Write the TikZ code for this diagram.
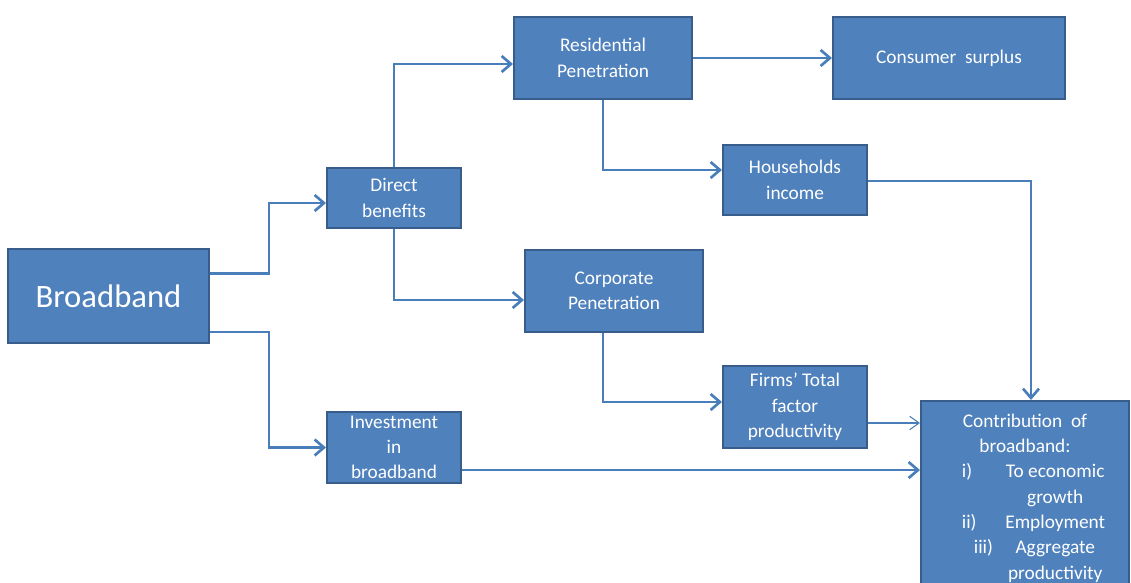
\documentclass[tikz,border=0pt]{standalone}
\usepackage{fontspec}
\setmainfont{Carlito}
\usepackage{tikz}
\usetikzlibrary{calc}
\usetikzlibrary{positioning}
\usetikzlibrary{arrows.meta}
\definecolor{boxfill}{RGB}{79,129,189}
\definecolor{boxline}{RGB}{56,93,138}
\definecolor{linkcol}{RGB}{74,126,187}

\begin{document}
\begin{tikzpicture}[x=0.75pt,y=0.75pt,yscale=-1,xscale=1,
    box/.style={draw=boxline, fill=boxfill, line width=1.5pt, text=white, align=center, inner sep=2pt, font=\fontsize{14.5}{19}\selectfont},
    link/.style={draw=linkcol, line width=2pt, -{Straight Barb[length=7pt,width=12pt,line width=2pt]}},
    thinlink/.style={draw=linkcol, line width=0.8pt, -{Straight Barb[length=7pt,width=10pt,line width=0.8pt]}}]
            %set diagram to the size of the reference
            \path[use as bounding box, clip] (0,0) rectangle (1131,582);

            %Shape: Rectangle [Broadband]
            \node[box, minimum width=150.75pt, minimum height=70.5pt, font=\fontsize{24.5}{28}\selectfont] (bb) at (108.5,296) {Broadband};
            %Shape: Rectangle [Direct benefits]
            \node[box, minimum width=100.5pt, minimum height=45pt] (direct) at (394,198) {Direct\\benefits};
            %Shape: Rectangle [Investment]
            \node[box, minimum width=100.5pt, minimum height=53.25pt] (invest) at (394,447.5) {Investment\\in\\broadband};
            %Shape: Rectangle [Residential]
            \node[box, minimum width=133.5pt, minimum height=61.5pt] (resid) at (603,58) {Residential\\Penetration};
            %Shape: Rectangle [Consumer surplus]
            \node[box, minimum width=174pt, minimum height=61.5pt] (consumer) at (949,58) {Consumer\ \ surplus};
            %Shape: Rectangle [Households]
            \node[box, minimum width=108pt, minimum height=52.5pt] (house) at (795,180) {Households\\income};
            %Shape: Rectangle [Corporate]
            \node[box, minimum width=133.5pt, minimum height=61.5pt] (corp) at (614,291) {Corporate\\Penetration};
            %Shape: Rectangle [Firms]
            \node[box, minimum width=108pt, minimum height=61.5pt] (firms) at (795,407) {Firms’ Total\\factor\\productivity};
            %Shape: Rectangle [Contribution]
            \node[box, minimum width=156pt, minimum height=145.5pt] (contrib) at (1025,498) {%
              \begin{tabular}{@{\hspace{12.75pt}}l@{\hspace{9.25pt}}c@{}}
                \multicolumn{2}{@{}c@{}}{Contribution\ \ of}\\
                \multicolumn{2}{@{}c@{}}{broadband:}\\
                i) & To economic\\
                   & growth\\
                ii) & Employment\\
                \hspace{9pt}iii) & Aggregate\\
                   & productivity
              \end{tabular}};

            %Straight Lines [Broadband to Direct benefits]
            \draw[link] ([yshift=-17pt]bb.east) -- ++(44.25pt,0) |- ([yshift=3.75pt]direct.west);
            %Straight Lines [Broadband to Investment]
            \draw[link] ([yshift=27pt]bb.east) -- ++(44.25pt,0) |- (invest.west);
            %Straight Lines [Direct to Residential]
            \draw[link] (direct.north) |- ([yshift=4.5pt]resid.west);
            %Straight Lines [Direct to Corporate]
            \draw[link] (direct.south) |- ([yshift=6.75pt]corp.west);
            %Straight Lines [Residential to Consumer]
            \draw[link] (resid.east) -- (consumer.west);
            %Straight Lines [Residential to Households]
            \draw[link] (resid.south) |- ([yshift=-7.5pt]house.west);
            %Straight Lines [Corporate to Firms]
            \draw[link] ([xshift=-8.25pt]corp.south) |- ([yshift=-3.75pt]firms.west);
            %Straight Lines [Households to Contribution]
            \draw[link] ([yshift=0.75pt]house.east) -| ([xshift=4.5pt]contrib.north);
            %Straight Lines [Firms to Contribution]
            \coordinate (firmsout) at ([yshift=12pt]firms.east);
            \draw[thinlink] (firmsout) -- (firmsout -| contrib.west);
            %Straight Lines [Investment to Contribution]
            \coordinate (investout) at ([yshift=16.9pt]invest.east);
            \draw[link] (investout) -- (investout -| contrib.west);

        \end{tikzpicture}
\end{document}
